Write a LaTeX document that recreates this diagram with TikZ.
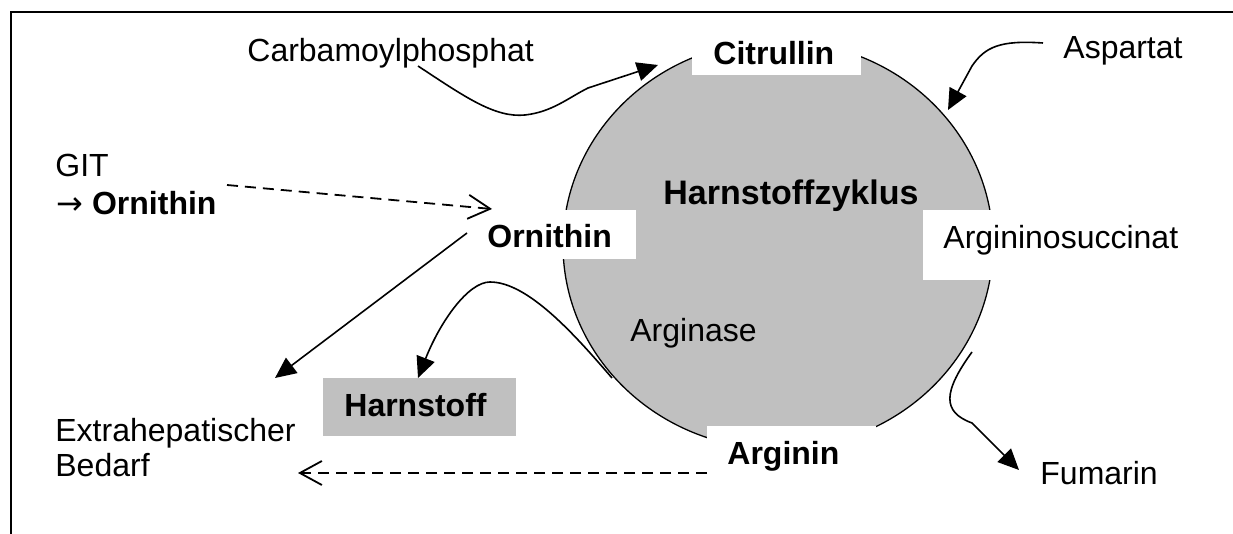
\documentclass[tikz,border=0pt]{standalone}
\usepackage{fontspec}
\setmainfont{Liberation Sans}
\newfontfamily\arrowfont{DejaVu Sans}
\usetikzlibrary{arrows.meta}
\definecolor{cyc}{RGB}{192,192,192}
\begin{document}
\begin{tikzpicture}[x=0.5pt,y=-0.5pt,
  lbl/.style={inner sep=0pt, anchor=base west, font=\fontsize{16pt}{19pt}\selectfont},
  blbl/.style={lbl, font=\fontsize{16pt}{19pt}\selectfont\bfseries},
  conn/.style={line width=0.8pt, -{Triangle[length=10.5pt,width=9.5pt]}},
  dconn/.style={line width=0.9pt, dash pattern=on 5.5pt off 3.5pt, -{Straight Barb[length=11pt,width=12pt]}},
  wbox/.style={fill=white},
]
\useasboundingbox (0,0) rectangle (1233,534);
% frame
\draw[line width=1pt] (11,534) -- (11,12) -- (1233,12);
% cycle
\coordinate (cc) at (778,245);
\draw[fill=cyc, line width=0.65pt] (cc) ellipse [x radius=107.5pt, y radius=102pt];
% white label boxes
\fill[wbox] (692,33) rectangle (861,75);
\fill[wbox] (472,210) rectangle (636,259);
\fill[wbox] (923,210) rectangle (1195,280);
\fill[wbox] (707,426) rectangle (876,495);
% grey Harnstoff box
\fill[cyc] (323,378) rectangle (516,436);
% texts
\node[lbl] (carb) at (247,62) {Carbamoylphosphat};
\node[blbl] (cit) at (713,65) {Citrullin};
\node[lbl] (asp) at (1063,59) {Aspartat};
\node[lbl] (git) at (55,177) {GIT};
\node[lbl] (gitorn) at (56,215) {{\arrowfont →} \textbf{Ornithin}};
\node[lbl, font=\fontsize{17pt}{20pt}\selectfont\bfseries] (zyk) at (663,205) {Harnstoffzyklus};
\node[blbl] (orn) at (487,248) {Ornithin};
\node[lbl] (ags) at (943,249) {Argininosuccinat};
\node[lbl] (ase) at (630,342) {Arginase};
\node[blbl] (hst) at (344,417) {Harnstoff};
\node[lbl] (extA) at (55,442) {Extrahepatischer};
\node[lbl] (extB) at (55,477) {Bedarf};
\node[blbl] (arg) at (727,465) {Arginin};
\node[lbl] (fum) at (1040,485) {Fumarin};
% connector end points
\coordinate (carbS) at (418,66);
\coordinate (carbT) at (658,65);
\coordinate (aspS) at (1043,43);
\coordinate (aspT) at (948,110);
\coordinate (gitS) at (227,185);
\coordinate (gitT) at (492,209);
\coordinate (ornS) at (467,233);
\coordinate (extT) at (275,378);
\coordinate (aseS) at (612,378);
\coordinate (hstT) at (418,378);
\coordinate (fumS) at (972,352);
\coordinate (fumT) at (1019,470);
\coordinate (argS) at (707,473);
\coordinate (argT) at (298,473);
% connectors
\draw[conn] (carbS) .. controls (465,97) and (495,118) .. (525,115)
  .. controls (552,112) and (568,98) .. (588,88) -- (carbT);
\draw[conn] (aspS) .. controls (1000,40) and (985,47) .. (972,66) -- (aspT);
\draw[dconn] (gitS) -- (gitT);
\draw[conn] (ornS) -- (extT);
\draw[conn] (aseS) .. controls (575,335) and (528,282) .. (490,282)
  .. controls (468,282) and (440,322) .. (hstT);
\draw[conn] (fumS) .. controls (943,392) and (942,412) .. (972,423) -- (fumT);
\draw[dconn] (argS) -- (argT);
\end{tikzpicture}
\end{document}
